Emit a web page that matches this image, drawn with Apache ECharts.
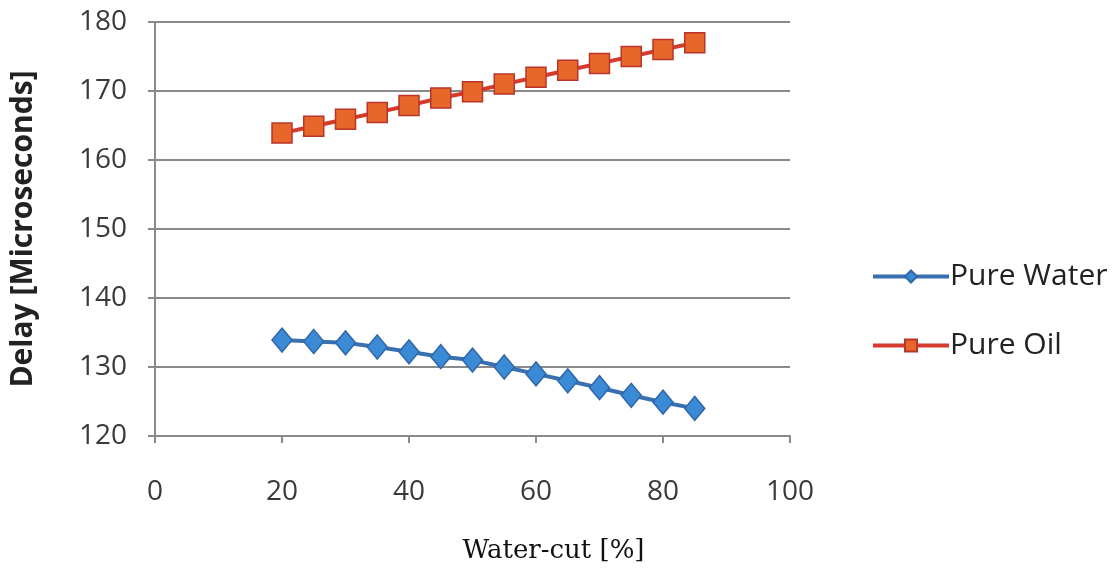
<!DOCTYPE html>
<html>
<head>
<meta charset="utf-8">
<script src="https://cdn.jsdelivr.net/npm/echarts@6/dist/echarts.min.js"></script>
<style>html,body{margin:0;padding:0;background:#fff;}#c{width:1118px;height:569px;}</style>
</head>
<body>
<div id="c"></div>
<script>
const waterCut = [20, 25, 30, 35, 40, 45, 50, 55, 60, 65, 70, 75, 80, 85];
const pureWater = [133.9, 133.7, 133.5, 132.9, 132.2, 131.5, 131.0, 130.0, 129.0, 128.0, 127.0, 125.9, 124.9, 124.0];
const pureOil = [163.9, 164.9, 165.9, 166.9, 167.9, 169.0, 169.9, 171.0, 172.0, 173.0, 174.0, 175.0, 176.0, 177.0];
const seriesNames = ['Pure Water', 'Pure Oil'];
const xTitle = 'Water-cut [%]';
const yTitle = 'Delay [Microseconds]';

const chart = echarts.init(document.getElementById('c'), null, {renderer: 'canvas'});
const labelFont = {fontFamily: 'Open Sans', fontSize: 28, color: '#3a3a3a'};
chart.setOption({
  animation: false,
  backgroundColor: '#ffffff',
  grid: {left: 155, right: 328, top: 22, bottom: 132},
  legend: {
    orient: 'vertical',
    left: 866,
    top: 256,
    itemGap: 38,
    itemWidth: 76,
    itemHeight: 15,
    lineStyle: {width: 4},
    textStyle: {fontFamily: 'Open Sans', fontSize: 30, lineHeight: 31, color: '#222', padding: [0, 0, 0, -4]},
    data: seriesNames
  },
  xAxis: {
    type: 'value', min: 0, max: 100, interval: 20,
    name: xTitle, nameLocation: 'middle', nameGap: 102,
    nameTextStyle: {fontFamily: 'DejaVu Serif', fontSize: 26, color: '#111', padding: [0, 0, 0, 162]},
    axisLine: {show: true, lineStyle: {color: '#8a8a8a', width: 2}},
    axisTick: {show: true, length: 7, lineStyle: {color: '#8a8a8a', width: 2}},
    axisLabel: Object.assign({margin: 42}, labelFont),
    splitLine: {show: false}
  },
  yAxis: {
    type: 'value', min: 120, max: 180, interval: 10,
    name: yTitle, nameLocation: 'middle', nameGap: 117, nameRotate: 90,
    nameTextStyle: {fontFamily: 'Open Sans', fontSize: 30, fontWeight: 'bold', color: '#222'},
    axisLine: {show: true, lineStyle: {color: '#8a8a8a', width: 2}},
    axisTick: {show: true, length: 7, lineStyle: {color: '#8a8a8a', width: 2}},
    axisLabel: Object.assign({margin: 28}, labelFont),
    splitLine: {show: true, lineStyle: {color: '#8a8a8a', width: 2}}
  },
  series: [
    {
      name: seriesNames[0], type: 'line',
      data: waterCut.map((x, i) => [x, pureWater[i]]),
      symbol: 'diamond', symbolSize: [20, 24],
      lineStyle: {color: '#3a6fb0', width: 4},
      itemStyle: {color: '#3b8ad6', borderColor: '#2f66a8', borderWidth: 1.5}
    },
    {
      name: seriesNames[1], type: 'line',
      data: waterCut.map((x, i) => [x, pureOil[i]]),
      symbol: 'rect', symbolSize: 20,
      lineStyle: {color: '#d63a2a', width: 4},
      itemStyle: {color: '#e8662a', borderColor: '#b8352a', borderWidth: 1.5}
    }
  ]
});
</script>
</body>
</html>
